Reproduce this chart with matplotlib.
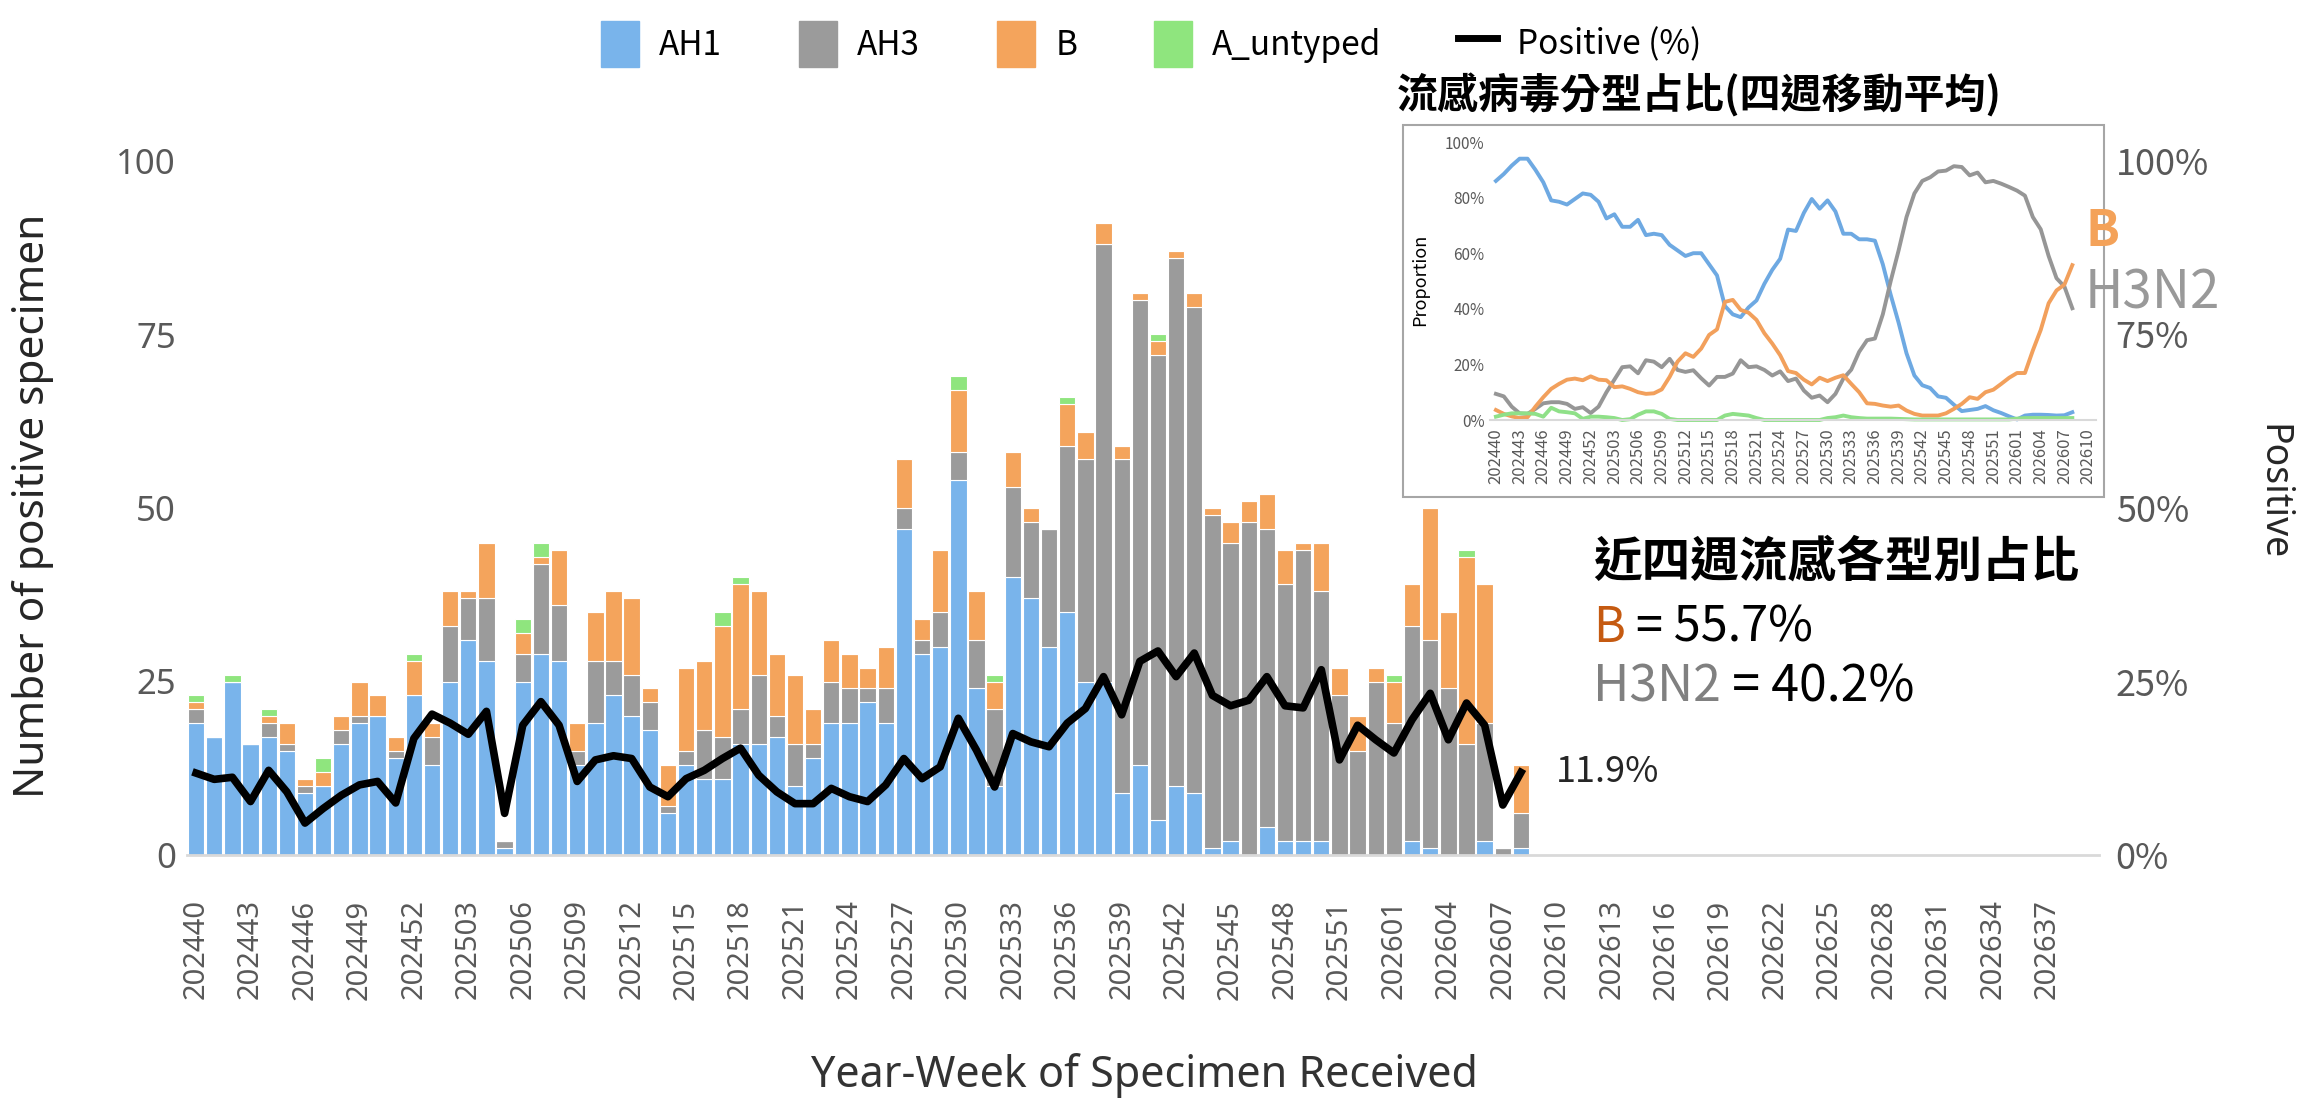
import matplotlib
matplotlib.use("Agg")
import matplotlib.pyplot as plt
from matplotlib.patches import Rectangle, Patch
from matplotlib.lines import Line2D
import numpy as np

plt.rcParams['font.family'] = ['Noto Sans CJK TC', 'DejaVu Sans']

# 週別 (x 軸類別)
all_weeks = ([f"2024{w:02d}" for w in range(40, 53)]
             + [f"2025{w:02d}" for w in range(1, 54)]
             + [f"2026{w:02d}" for w in range(1, 40)])
n_data = 74  # 202440 ~ 202608

# 各週陽性檢體數
ah1 = [19, 17, 25, 16, 17, 15, 9, 10, 16, 19, 20, 14, 23, 13, 25, 31, 28, 1, 25, 29,
       28, 13, 19, 23, 20, 18, 6, 13, 11, 11, 16, 16, 17, 10, 14, 19, 19, 22, 19, 47,
       29, 30, 54, 24, 10, 40, 37, 30, 35, 25, 25, 9, 13, 5, 10, 9, 1, 2, 0, 4,
       2, 2, 2, 0, 0, 0, 0, 2, 1, 0, 0, 2, 0, 1]
ah3 = [2, 0, 0, 0, 2, 1, 1, 0, 2, 1, 0, 1, 0, 4, 8, 6, 9, 1, 4, 13,
       8, 2, 9, 5, 6, 4, 1, 2, 7, 6, 5, 10, 3, 6, 2, 6, 5, 2, 5, 3,
       2, 5, 4, 7, 11, 13, 11, 17, 24, 32, 63, 48, 67, 67, 76, 70, 48, 43, 48, 43,
       37, 42, 36, 23, 15, 25, 19, 31, 30, 24, 16, 17, 1, 5]
flu_b = [1, 0, 0, 0, 1, 3, 1, 2, 2, 5, 3, 2, 5, 2, 5, 1, 8, 0, 3, 1,
         8, 4, 7, 10, 11, 2, 6, 12, 10, 16, 18, 12, 9, 10, 5, 6, 5, 3, 6, 7,
         3, 9, 9, 7, 4, 5, 2, 0, 6, 4, 3, 2, 1, 2, 1, 2, 1, 3, 3, 5,
         5, 1, 7, 4, 5, 2, 6, 6, 19, 11, 27, 20, 0, 7]
a_untyped = [1, 0, 1, 0, 1, 0, 0, 2, 0, 0, 0, 0, 1, 0, 0, 0, 0, 0, 2, 2,
             0, 0, 0, 0, 0, 0, 0, 0, 0, 2, 1, 0, 0, 0, 0, 0, 0, 0, 0, 0,
             0, 0, 2, 0, 1, 0, 0, 0, 1, 0, 0, 0, 0, 1, 0, 0, 0, 0, 0, 0,
             0, 0, 0, 0, 0, 0, 1, 0, 0, 0, 1, 0, 0, 0]
# 陽性率 (%)
positive = [11.8, 10.9, 11.2, 7.7, 12.2, 9.1, 4.6, 6.7, 8.6, 10.1, 10.6, 7.5, 16.8, 20.3, 19.0,
            17.4, 20.7, 6.0, 18.7, 22.1, 18.7, 10.6, 13.7, 14.3, 13.9, 9.8, 8.4, 11.0, 12.2, 13.9,
            15.4, 11.5, 9.1, 7.4, 7.4, 9.6, 8.4, 7.7, 10.1, 13.9, 11.0, 12.7, 19.7, 15.1, 9.8,
            17.5, 16.3, 15.6, 19.0, 21.1, 25.7, 20.2, 27.9, 29.4, 25.7, 29.1, 23.0, 21.5, 22.3, 25.7,
            21.5, 21.2, 26.7, 13.7, 18.7, 16.6, 14.7, 19.5, 23.3, 16.6, 21.9, 18.7, 7.2, 11.9]

# 分型占比 (四週移動平均, %)
h1_share = [86, 88.5, 91.5, 94, 94, 90, 85.5, 79, 78.5, 77.5, 79.5, 81.5, 81, 78.5, 72.5,
            74, 69.5, 69.5, 72, 66.5, 67, 66.5, 63, 61, 59, 60, 60, 56, 52, 41,
            38, 37, 40.5, 43, 49, 54, 58, 68.5, 68, 74.5, 79.5, 76, 79, 75, 67,
            67, 65, 65, 64.5, 56, 45, 35, 24, 16, 12.5, 11.5, 8.5, 8, 5.5, 3.2,
            3.6, 4, 5, 3.5, 2.5, 1.3, 0.2, 1.6, 1.9, 1.9, 1.8, 1.6, 1.7, 2.8]
h3_share = [9.4, 8.5, 4.8, 2.4, 2.2, 4.0, 6.0, 6.4, 6.4, 5.8, 4.0, 4.6, 2.5, 4.8, 10,
            14.5, 19, 19.3, 16.8, 21.5, 21, 19, 22, 18, 17.3, 17.9, 15, 12.4, 15.5, 15.5,
            16.7, 21.5, 19, 19.3, 18, 16, 17.5, 14, 14.9, 10.6, 8, 8.8, 6.4, 9.4, 14.9,
            18.1, 24.5, 28.7, 29.3, 38, 50, 61, 73, 81.5, 86, 87.3, 89.4, 89.7, 91.3, 91,
            88, 89, 85.5, 86, 85, 83.8, 82.5, 80.7, 73, 68.6, 59, 51, 48, 40.2]
b_share = [3.6, 2.2, 1.3, 0.7, 1.0, 4.8, 8.2, 11.2, 13, 14.5, 14.9, 14.3, 15.7, 14.5, 14.3,
           11.8, 12.1, 11.2, 10.0, 9.4, 9.6, 11, 15.5, 21, 24, 22.7, 25.7, 30.6, 32.6, 42.5,
           43.2, 39.6, 38.6, 36, 31.2, 27.5, 23.3, 17.6, 16.9, 14.5, 12.8, 15.2, 14, 15.2, 16.1,
           13, 10, 6, 5.8, 5.2, 4.8, 5.2, 3.4, 2.2, 1.6, 1.6, 1.6, 2.4, 4, 5.8,
           8.2, 7.6, 10, 10.9, 13, 15.2, 16.9, 16.9, 25, 32.4, 42, 46.6, 48.7, 55.7]
un_share = [1.2, 1.9, 2.4, 2.4, 2.4, 2.2, 1.2, 4.4, 3.1, 2.8, 2.4, 0.4, 1.2, 1.2, 1.0,
            0.7, 0, 0.3, 1.9, 3.1, 3.1, 2.2, 0.4, 0, 0, 0, 0, 0, 0, 1.6,
            2.2, 1.9, 1.6, 0.7, 0, 0, 0, 0, 0, 0, 0, 0, 0.7, 1.0, 1.6,
            1.0, 0.7, 0.5, 0.5, 0.5, 0.5, 0.4, 0.3, 0.2, 0.2, 0.2, 0.2, 0.2, 0.2, 0.2,
            0.2, 0.2, 0.2, 0.2, 0.2, 0.2, 0.5, 0.7, 0.7, 0.7, 0.7, 0.7, 0.7, 0.7]

c_h1 = '#79b4eb'
c_h3 = '#9b9b9b'
c_b = '#f4a45c'
c_un = '#8fe57e'
tick_grey = '#595959'
latin = ['Noto Sans', 'DejaVu Sans']

W, H = 2302, 1101
fig = plt.figure(figsize=(W / 100, H / 100), dpi=100)

x = np.arange(n_data)
ax = fig.add_axes([187 / W, 1 - 855 / H, (2099 - 187) / W, (855 - 161) / H])
bot = np.zeros(n_data)
for vals, col in [(ah1, c_h1), (ah3, c_h3), (flu_b, c_b), (a_untyped, c_un)]:
    ax.bar(x, vals, bottom=bot, width=0.9, color=col, edgecolor='white', linewidth=0.8)
    bot = bot + np.array(vals)

ax.set_xlim(-0.5, 104.85)
ax.set_ylim(0, 100)
ax.set_yticks([0, 25, 50, 75, 100])
tick_pos = np.arange(0, len(all_weeks), 3)
ax.set_xticks(tick_pos)
ax.set_xticklabels([all_weeks[i] for i in tick_pos], rotation=90, family=latin, fontsize=21)
ax.tick_params(axis='y', length=0, labelsize=25, colors=tick_grey, pad=8)
ax.tick_params(axis='x', length=0, colors=tick_grey, pad=32)
for lab in ax.get_yticklabels():
    lab.set_family(latin)
for s in ['top', 'right', 'left']:
    ax.spines[s].set_visible(False)
ax.spines['bottom'].set_color('#d9d9d9')
ax.spines['bottom'].set_linewidth(2)

ax2 = ax.twinx()
ax2.plot(x, positive, color='black', lw=5.5)
ax2.set_ylim(0, 100)
ax2.set_yticks([0, 25, 50, 75, 100])
ax2.set_yticklabels(['0%', '25%', '50%', '75%', '100%'])
ax2.tick_params(axis='y', length=0, labelsize=26, colors=tick_grey, pad=12)
for s in ax2.spines.values():
    s.set_visible(False)
ax2.text(x[-1] + 1.9, positive[-1], f"{positive[-1]}%", fontsize=26, va='center', ha='left',
         color='#262626')

fig.text(33 / W, 1 - 506 / H, 'Number of positive specimen', rotation=90, fontsize=30.5,
         ha='center', va='center', color='#262626', family=latin, weight='medium')
fig.text(1144 / W, 1 - 1076 / H, 'Year-Week of Specimen Received', fontsize=31,
         ha='center', va='center', color='#333333', family=latin, weight='medium')
fig.text(2272 / W, 1 - 492 / H, 'Positive', rotation=270, fontsize=27,
         ha='center', va='center', color='#262626', family=latin, weight='medium')

handles = [Patch(color=c_h1), Patch(color=c_h3), Patch(color=c_b), Patch(color=c_un),
           Line2D([], [], color='black', lw=5)]
fig.legend(handles, ['AH1', 'AH3', 'B', 'A_untyped', 'Positive (%)'], ncol=5,
           loc='center', bbox_to_anchor=(0.5, 1 - 44 / H), frameon=False, fontsize=24,
           handlelength=1.15, handleheight=1.75, columnspacing=2.3, handletextpad=0.6)

# 分型占比小圖
box = Rectangle((1403 / W, 1 - 497 / H), (2104 - 1403) / W, (497 - 125) / H,
                transform=fig.transFigure, facecolor='white', edgecolor='#a6a6a6',
                lw=1.5, zorder=2)
fig.patches.append(box)
fig.text(1699 / W, 1 - 95 / H, '流感病毒分型占比(四週移動平均)', fontsize=29.5, weight='bold',
         ha='center', va='center')

axi = fig.add_axes([1490 / W, 1 - 420 / H, (2096 - 1490) / W, (420 - 142) / H], zorder=3)
axi.set_facecolor('none')
for vals, col in [(h1_share, '#6ea9e2'), (h3_share, '#969696'), (b_share, '#f2a05c'),
                  (un_share, '#8fe088')]:
    axi.plot(x, np.array(vals) / 100, color=col, lw=2.8, clip_on=False)
axi.set_xlim(-0.75, 76)
axi.set_ylim(0, 1)
axi.set_yticks(np.arange(0, 1.01, 0.2))
axi.set_yticklabels([f"{int(v)}%" for v in np.arange(0, 101, 20)])
ti = np.arange(0, 76, 3)
axi.set_xticks(ti)
axi.set_xticklabels([all_weeks[i] for i in ti], rotation=90)
axi.tick_params(axis='y', length=0, labelsize=11, colors=tick_grey, pad=4)
axi.tick_params(axis='x', length=0, labelsize=12, colors=tick_grey, pad=6)
for s in ['top', 'right', 'left']:
    axi.spines[s].set_visible(False)
axi.spines['bottom'].set_color('#d9d9d9')
axi.spines['bottom'].set_linewidth(1.5)
fig.text(1420 / W, 1 - 280 / H, 'Proportion', rotation=90, fontsize=13,
         ha='center', va='center')

fig.text(2085 / W, 1 - 231 / H, 'B', fontsize=36, color='#f4a259', weight='bold',
         ha='left', va='center', zorder=4)
fig.text(2085 / W, 1 - 293 / H, 'H3N2', fontsize=38, color='#999999',
         ha='left', va='center', zorder=4)

# 近四週占比
fig.text(1593 / W, 1 - 562 / H, '近四週流感各型別占比', fontsize=35, weight='bold',
         ha='left', va='center')
t1 = fig.text(1593 / W, 1 - 628 / H, 'B', fontsize=35, color='#c55a11', ha='left', va='center')
ax.annotate(' = 55.7%', xy=(1, 0.5), xycoords=t1, fontsize=35, va='center', ha='left',
            color='black', annotation_clip=False)
t2 = fig.text(1593 / W, 1 - 688 / H, 'H3N2', fontsize=36, color='#808080', ha='left', va='center')
ax.annotate(' = 40.2%', xy=(1, 0.5), xycoords=t2, fontsize=36, va='center', ha='left',
            color='black', annotation_clip=False)

fig.savefig('out.png', dpi=100)
